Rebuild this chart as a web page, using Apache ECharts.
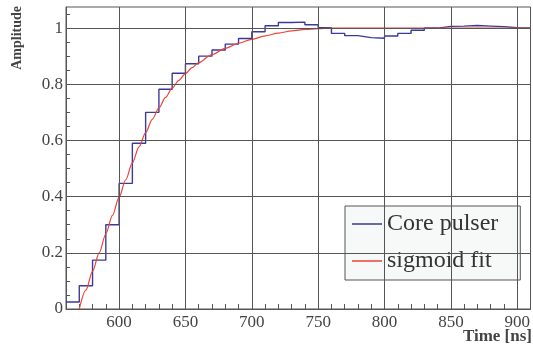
<!DOCTYPE html>
<html>
<head>
<meta charset="utf-8">
<script src="https://cdn.jsdelivr.net/npm/echarts@6/dist/echarts.min.js"></script>
<style>
  html, body { margin: 0; padding: 0; background: #fff; }
  #chart { width: 533px; height: 347px; }
</style>
</head>
<body>
<div id="chart"></div>
<script>
// histogram: left edge of each 10 ns bin and its amplitude
const binStart = [560, 570, 580, 590, 600, 610, 620, 630, 640, 650, 660, 670, 680, 690, 700, 710, 720, 730, 740, 750,
  760, 770, 780, 790, 800, 810, 820, 830, 840, 850, 860, 870, 880, 890, 900, 910];
const pulser = [0.025, 0.083, 0.174, 0.300, 0.447, 0.590, 0.700, 0.782, 0.839, 0.873, 0.900, 0.922, 0.943, 0.963, 0.987, 1.008, 1.020, 1.021, 1.012, 1.001,
  0.981, 0.973, 0.966, 0.964, 0.972, 0.981, 0.992, 1.000, 1.006, 1.007, 1.009, 1.007, 1.005, 1.001, 1.000, 1.000];

// sigmoid fit
const fitTime = [570, 575, 580, 585, 590, 595, 600, 605, 610, 615, 620, 625, 630, 635, 640, 645, 650, 655, 660, 670,
  680, 690, 700, 710, 720, 730, 740, 750, 760, 800, 850, 910];
const fitValue = [0.000, 0.067, 0.134, 0.200, 0.267, 0.333, 0.398, 0.460, 0.520, 0.577, 0.628, 0.675, 0.716, 0.753, 0.786, 0.814, 0.838, 0.859, 0.877, 0.906,
  0.928, 0.946, 0.960, 0.972, 0.982, 0.990, 0.995, 0.998, 1.000, 1.000, 1.000, 1.000];

const xGrid = [600, 650, 700, 750, 800, 850, 900];
const yGrid = [0.2, 0.4, 0.6, 0.8, 1.0];

const serif = 'Liberation Serif';
const frame = '#555';

const myChart = echarts.init(document.getElementById('chart'));

myChart.setOption({
  animation: false,
  grid: {
    left: 66, right: 1, top: 7, bottom: 38,
    show: true, borderColor: frame, borderWidth: 1
  },
  xAxis: {
    type: 'value',
    min: 560, max: 910, interval: 10,
    axisLine: { lineStyle: { color: frame } },
    axisTick: { inside: true, length: 5, lineStyle: { color: frame } },
    splitLine: { show: false },
    axisLabel: {
      fontFamily: serif, fontSize: 17, color: '#444', margin: 5,
      showMaxLabel: false, showMinLabel: false,
      formatter: v => (v % 50 === 0 ? String(v) : '')
    }
  },
  yAxis: {
    type: 'value',
    min: 0, max: 1.075, interval: 0.05,
    axisLine: { lineStyle: { color: frame } },
    axisTick: { inside: true, length: 4, lineStyle: { color: frame } },
    splitLine: { show: false },
    axisLabel: {
      fontFamily: serif, fontSize: 17, color: '#444', margin: 3,
      showMaxLabel: false,
      formatter: v => {
        const k = Math.round(v * 100);
        if (k % 20 !== 0) return '';
        if (k === 0) return '0';
        if (k === 100) return '1';
        return (k / 100).toFixed(1);
      }
    }
  },
  legend: {
    left: 345, top: 206,
    orient: 'vertical',
    backgroundColor: '#f7f8f8',
    borderColor: frame, borderWidth: 1,
    padding: [6, 22, 7, 7],
    itemGap: 13,
    itemWidth: 30, itemHeight: 1.5,
    icon: 'rect',
    textStyle: { fontFamily: serif, fontSize: 24, color: '#333' },
    data: ['Core pulser', 'sigmoid fit']
  },
  graphic: [
    {
      type: 'text', x: 17, y: 6, rotation: Math.PI / 2,
      style: {
        text: 'Amplitude', font: 'bold 14px "Liberation Serif"', fill: '#444',
        textAlign: 'right', textVerticalAlign: 'middle'
      }
    },
    {
      type: 'text', x: 532, y: 337,
      style: {
        text: 'Time [ns]', font: 'bold 17px "Liberation Serif"', fill: '#444',
        textAlign: 'right', textVerticalAlign: 'middle'
      }
    }
  ],
  series: [
    {
      name: 'grid',
      type: 'line',
      data: [],
      z: 1,
      markLine: {
        silent: true,
        symbol: 'none',
        label: { show: false },
        lineStyle: { color: frame, width: 1, type: 'solid' },
        data: xGrid.map(v => ({ xAxis: v })).concat(yGrid.map(v => ({ yAxis: v })))
      }
    },
    {
      name: 'Core pulser',
      type: 'line',
      step: 'end',
      symbol: 'none',
      z: 3,
      color: '#3a3a9c',
      lineStyle: { width: 1.4 },
      data: binStart.map((t, i) => [t, pulser[i]])
    },
    {
      name: 'sigmoid fit',
      type: 'line',
      symbol: 'none',
      smooth: 0.3,
      smoothMonotone: 'x',
      z: 4,
      color: '#ee4433',
      lineStyle: { width: 1.2 },
      data: fitTime.map((t, i) => [t, fitValue[i]])
    }
  ]
});
</script>
</body>
</html>
